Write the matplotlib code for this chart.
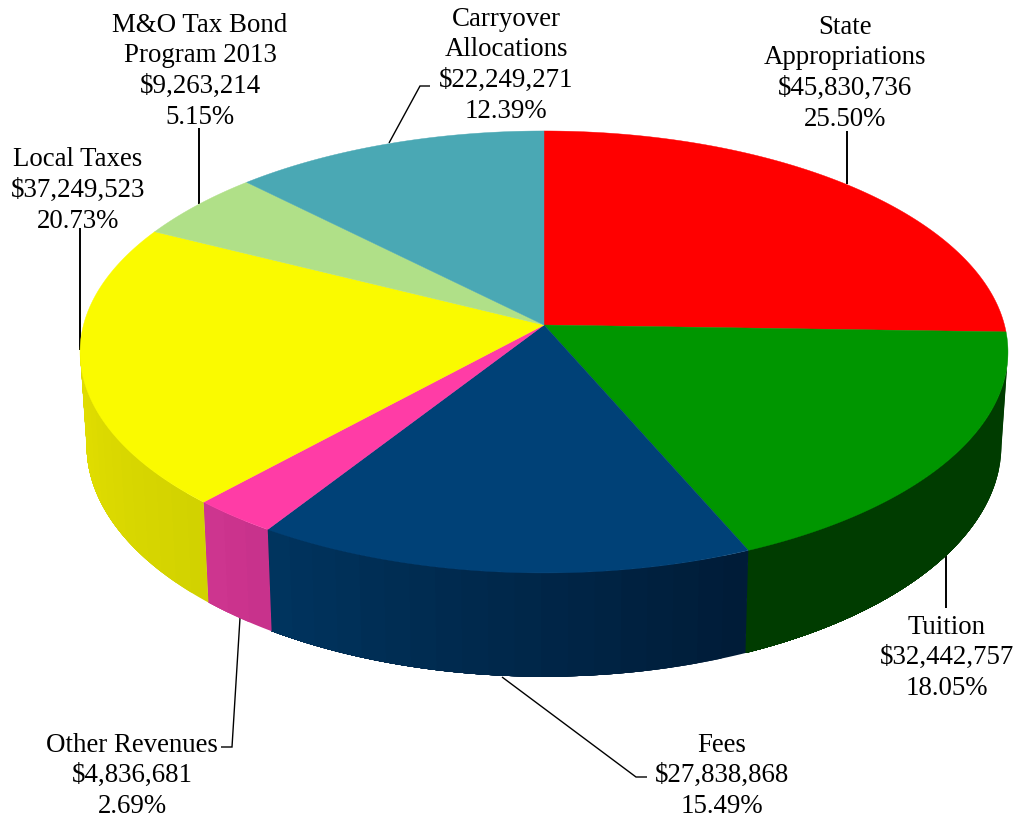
import numpy as np
import matplotlib
matplotlib.use('Agg')
import matplotlib.pyplot as plt
from matplotlib.collections import PolyCollection

# slices, clockwise from 12 o'clock
names = [['State', 'Appropriations'], ['Tuition'], ['Fees'], ['Other Revenues'],
         ['Local Taxes'], ['M&O Tax Bond', 'Program 2013'], ['Carryover', 'Allocations']]
values = [45830736, 32442757, 27838868, 4836681, 37249523, 9263214, 22249271]
percents = ['25.50%', '18.05%', '15.49%', '2.69%', '20.73%', '5.15%', '12.39%']

top_colors = ['#ff0000', '#009600', '#004177', '#ff3ca6', '#fafa00', '#b0e088', '#4aa8b4']
side_right = ['#8c0000', '#003c00', '#001c38', '#c8328c', '#d2d200', '#60a040', '#206070']
side_left = ['#8c0000', '#003c00', '#003560', '#d03690', '#e4e000', '#60a040', '#206070']

# perspective of the disc, in pixels
cx = 544
cy_top = 325
cy_bot = 417
rx_top = 460.5
ry_top = 217.7
rx_bot = 454
ry_bot = 228
k = 0.122

# centre of each text block, x and y of first line
label_pos = [(845, 27), (947, 627), (722, 745), (132, 745), (78, 160), (200, 25), (506, 19)]
line_step = 30.8

# leader lines
leaders = [([847, 847], [184, 131]),
           ([946, 946], [555, 608]),
           ([502, 636, 647], [677, 777, 777]),
           ([240, 232, 221], [618, 747, 747]),
           ([80, 80], [350, 228]),
           ([199, 199], [204, 128]),
           ([389, 420, 430], [143, 86, 86])]
leader_lw = [1.4, 1.4, 1.0, 1.0, 1.4, 1.4, 1.0]


def top_xy(a):
    w = 1 + k * np.cos(a)
    return cx + rx_top * np.sin(a) / w, cy_top - ry_top * np.cos(a) / w


def bot_xy(a):
    w = 1 + k * np.cos(a)
    return cx + rx_bot * np.sin(a) / w, cy_bot - ry_bot * np.cos(a) / w


def mix(c1, c2, t):
    a = np.array(matplotlib.colors.to_rgb(c1))
    b = np.array(matplotlib.colors.to_rgb(c2))
    return a + (b - a) * t


fig = plt.figure(figsize=(10.18, 8.18), dpi=100)
ax = fig.add_axes([0, 0, 1, 1])
ax.set_xlim(0, 1018)
ax.set_ylim(818, 0)
ax.axis('off')

edges = np.concatenate([[0], np.cumsum(values)]) / np.sum(values) * 2 * np.pi
front_a = np.arccos(-k)
front_b = 2 * np.pi - front_a

# rim of the disc, only the part facing us
# each band runs on to the end of the slice, so the next one paints over it and no seams show
for i in range(len(values)):
    a0 = max(edges[i], front_a)
    a1 = min(edges[i + 1], front_b)
    if a1 <= a0:
        continue
    n = max(2, int((a1 - a0) / 0.05))
    aa = np.linspace(a0, a1, n + 1)
    polys = []
    cols = []
    for j in range(n):
        rest = np.linspace(aa[j], a1, 80)
        xt, yt = top_xy(rest)
        xb, yb = bot_xy(rest[::-1])
        polys.append(np.c_[np.r_[xt, xb], np.r_[yt, yb]])
        t = (aa[j] - a0) / (a1 - a0)
        cols.append(mix(side_right[i], side_left[i], t))
    ax.add_collection(PolyCollection(polys, facecolors=cols, edgecolors='none', zorder=2))

# top face
for i in range(len(values)):
    aa = np.linspace(edges[i], edges[i + 1], 200)
    x, y = top_xy(aa)
    ax.fill(np.r_[cx, x], np.r_[cy_top, y], color=top_colors[i], lw=0.3, zorder=3)

for (lx, ly), lw in zip(leaders, leader_lw):
    ax.plot(lx, ly, color='black', lw=lw, solid_capstyle='butt', solid_joinstyle='miter', zorder=1)

for i in range(len(values)):
    lines = names[i] + ['$' + format(values[i], ','), percents[i]]
    x, y = label_pos[i]
    for j, s in enumerate(lines):
        ax.text(x, y + j * line_step, s.replace('$', r'\$'), ha='center', va='center', fontsize=19.4,
                family='Liberation Serif', color='black', zorder=5)

fig.savefig('out.png', dpi=100)
